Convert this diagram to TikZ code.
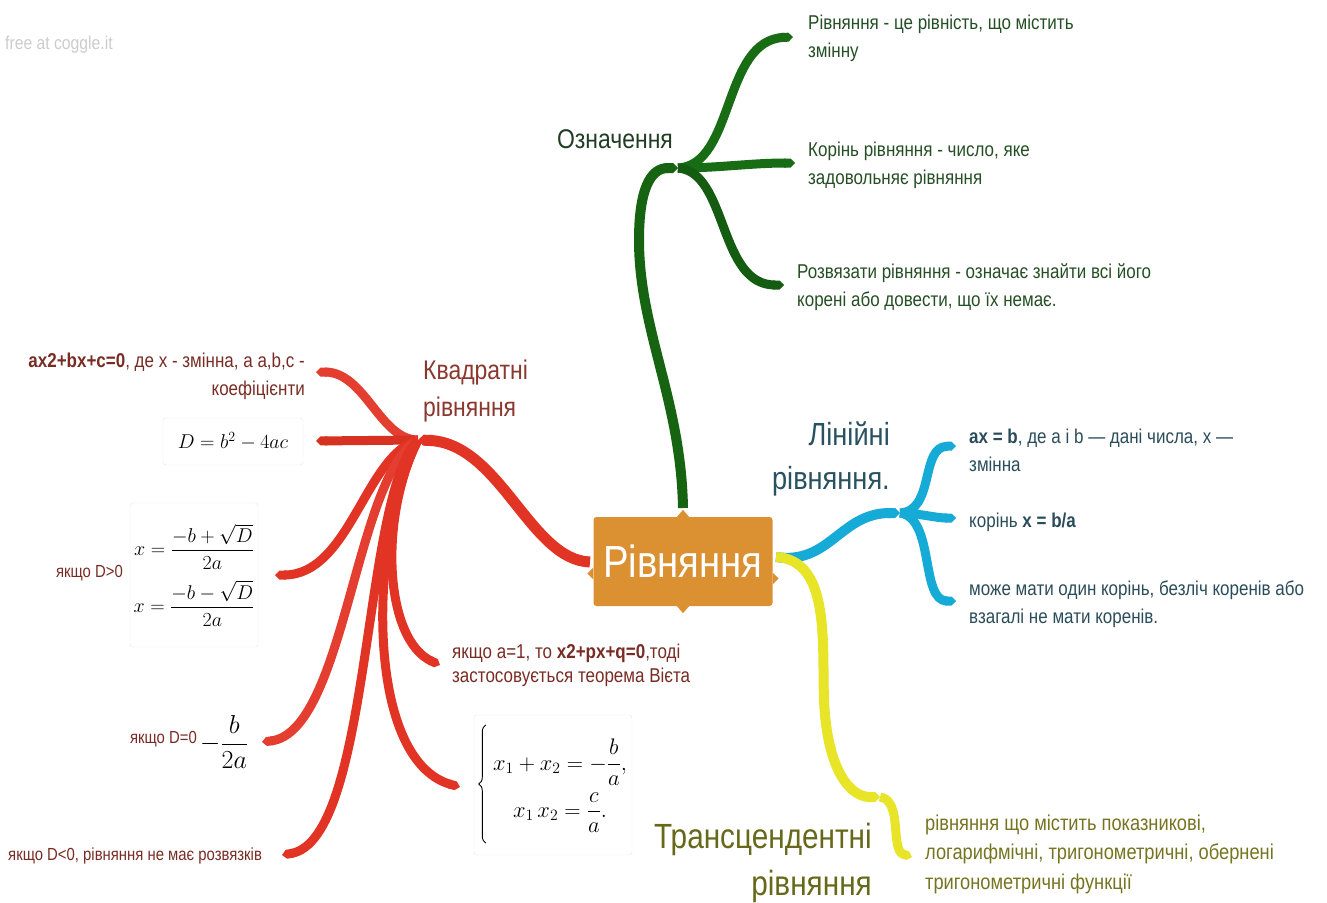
\RequirePackage{fix-cm}
\documentclass[tikz,border=0pt]{standalone}
\usepackage{amsmath}
\usepackage{fontspec}
\setmainfont[FakeStretch=0.85]{Liberation Sans}
\usetikzlibrary{arrows.meta,decorations.pathreplacing}

% branch colours
\definecolor{brgreen}{RGB}{24,108,20}
\definecolor{brred}{RGB}{226,52,36}
\definecolor{brblue}{RGB}{22,170,214}
\definecolor{bryellow}{RGB}{232,228,40}
\definecolor{rootfill}{RGB}{219,145,50}
% text colours
\definecolor{txgreen}{RGB}{36,78,36}
\definecolor{hdgreen}{RGB}{34,60,36}
\definecolor{txred}{RGB}{120,44,36}
\definecolor{hdred}{RGB}{138,56,46}
\definecolor{txblue}{RGB}{42,76,90}
\definecolor{hdblue}{RGB}{40,82,96}
\definecolor{txolive}{RGB}{118,116,32}
\definecolor{hdolive}{RGB}{104,104,26}

\begin{document}
\begin{tikzpicture}[x=1pt,y=-1pt,
  branch/.style={line width=#1, line cap=butt, -{Triangle Cap[]}},
  branch/.default=10,
  leaf/.style={inner sep=0pt, align=left, anchor=west, font=\fontsize{20}{28}\selectfont},
  small/.style={font=\fontsize{17.5}{24}\selectfont},
  heading/.style 2 args={inner sep=0pt, font=\fontsize{#1}{#2}\selectfont},
  formulabox/.style={draw=black!9, fill=white, rounded corners=3pt, inner sep=0pt,
    align=center, font=\fontsize{20}{24}\selectfont}]
\useasboundingbox (0,0) rectangle (1327,902);

% watermark
\node[inner sep=0pt, anchor=west, text=black!20, font=\fontsize{18.5}{24}\selectfont] (mark) at (5,45) {free at coggle.it};

% ---- hubs and branch ends ----
\coordinate (rootN) at (683,508);
\coordinate (rootW) at (590,562);
\coordinate (rootE) at (776,557);

\coordinate (gHub) at (678,168);
\coordinate (gEnd1) at (793,37);
\coordinate (gEnd2) at (795,163);
\coordinate (gEnd3) at (784,285);

\coordinate (rHub) at (418,440);
\coordinate (rEnd1) at (316,372);
\coordinate (rEnd2) at (316,441);
\coordinate (rEnd3) at (275,575);
\coordinate (rEnd4) at (262,742);
\coordinate (rEnd5) at (282,855);
\coordinate (rEnd6) at (440,665);
\coordinate (rEnd7) at (460,787);

\coordinate (bHub) at (900,513);
\coordinate (bEnd1) at (956,446);
\coordinate (bEnd2) at (956,518);
\coordinate (bEnd3) at (956,601);

\coordinate (yHub) at (880,797);
\coordinate (yEnd1) at (912,857);

% ---- green branch ----
\draw[branch=10, brgreen!92!black] (rootN) .. controls (681,400) and (639,330) .. (639,240)
  .. controls (639,190) and (650,168) .. (gHub);
\draw[branch=9, brgreen] (gHub) .. controls (735,165) and (722,40) .. (gEnd1);
\draw[branch=9, brgreen] (gHub) .. controls (720,168) and (750,163) .. (gEnd2);
\draw[branch=9, brgreen!85!black] (gHub) .. controls (728,172) and (718,285) .. (gEnd3);

% ---- red branch ----
\draw[branch=11, brred] (rootW) .. controls (530,560) and (500,443) .. (rHub);
\draw[branch=9, brred!95!white] (rHub) .. controls (380,440) and (365,372) .. (rEnd1);
\draw[branch=9, brred!95!black] (rHub) -- (rEnd2);
\draw[branch=9, brred] (rHub) .. controls (365,455) and (350,575) .. (rEnd3);
\draw[branch=9, brred!95!white] (rHub) .. controls (355,475) and (345,732) .. (rEnd4);
\draw[branch=9, brred] (rHub) .. controls (362,495) and (372,840) .. (rEnd5);
\draw[branch=9, brred] (rHub) .. controls (378,520) and (385,640) .. (rEnd6);
\draw[branch=9, brred] (rHub) .. controls (370,530) and (362,760) .. (rEnd7);

% ---- blue branch ----
\draw[branch=10, brblue] (rootE) .. controls (830,565) and (840,513) .. (bHub);
\draw[branch=9, brblue] (bHub) .. controls (935,511) and (920,447) .. (bEnd1);
\draw[branch=9, brblue] (bHub) .. controls (925,514) and (935,518) .. (bEnd2);
\draw[branch=9, brblue] (bHub) .. controls (935,518) and (920,601) .. (bEnd3);

% ---- yellow branch ----
\draw[branch=10, bryellow] (rootE) .. controls (830,560) and (822,640) .. (824,700)
  .. controls (827,770) and (850,797) .. (yHub);
\draw[branch=9, bryellow] (yHub) .. controls (903,800) and (890,850) .. (yEnd1);

% ---- central node ----
\node[fill=rootfill, rounded corners=3pt, minimum width=179pt, minimum height=89pt,
  inner sep=0pt, text=white, font=\fontsize{45}{50}\selectfont] (root) at (683,561.5) {Рівняння};
\fill[rootfill] ([xshift=-6pt]root.north) -- ++(6,-7) -- ++(6,7) -- cycle;
\fill[rootfill] ([xshift=-6pt]root.south) -- ++(6,7) -- ++(6,-7) -- cycle;
\fill[rootfill] ([yshift=-6pt]root.west) -- ++(-6,6) -- ++(6,6) -- cycle;
\fill[rootfill] ([yshift=-11pt]root.east) -- ++(6,6) -- ++(-6,6) -- cycle;

% ---- headings ----
\node[heading={27}{37}, text=hdgreen] (hDef) at (615,139) {Означення};
\node[heading={27}{37}, text=hdred, align=left, anchor=west] (hQuad) at (423,391)
  {Квадратні\\рівняння};
\node[heading={32}{44}, text=hdblue, align=right, anchor=east] (hLin) at (890,459)
  {Лінійні\\рівняння.};
\node[heading={35}{47}, text=hdolive, align=right, anchor=east] (hTr) at (872,863)
  {Трансцендентні\\рівняння};

% ---- green leaves ----
\node[leaf, text=txgreen] (g1) at (808,38) {Рівняння - це рівність, що містить\\змінну};
\node[leaf, text=txgreen] (g2) at (808,165) {Корінь рівняння - число, яке\\задовольняє рівняння};
\node[leaf, text=txgreen] (g3) at (797,287) {Розвязати рівняння - означає знайти всі його\\корені або довести, що їх немає.};

% ---- red leaves ----
\node[leaf, text=txred, align=right, anchor=east] (r1) at (305,376)
  {\textbf{ax2+bx+c=0}, де х - змінна, а a,b,c -\\коефіцієнти};
\node[formulabox, minimum width=140pt, minimum height=47pt] (r2) at (233,441.5)
  {$D = b^2 - 4ac$};
\node[formulabox, minimum width=128pt, minimum height=144pt, font=\fontsize{20}{24}\selectfont] (r3) at (194,575)
  {$\displaystyle x=\frac{-b+\sqrt{D}}{2a}$\\[10pt]$\displaystyle x=\frac{-b-\sqrt{D}}{2a}$};
\node[leaf, small, text=txred, anchor=east] (r3t) at (123,573) {якщо D>0};
\node[leaf, small, text=txred, anchor=east] (r4t) at (197,739) {якщо D=0};
\node[inner sep=0pt, anchor=west, font=\fontsize{26}{30}\selectfont] (r4) at (200,742)
  {$\displaystyle -\frac{b}{2a}$};
\node[leaf, small, text=txred] (r5) at (8,856) {якщо D<0, рівняння не має розвязків};
\node[leaf, text=txred, font=\fontsize{20}{24}\selectfont] (r6) at (452,665)
  {якщо а=1, то \textbf{x2+px+q=0},тоді\\застосовується теорема Вієта};
% Vieta system: box, drawn brace, and the two equations
\node[formulabox, minimum width=158pt, minimum height=140pt] (r7) at (553,785) {};
\draw[decorate, decoration={brace, amplitude=7pt}, line width=0.9pt]
  ([xshift=12pt, yshift=-58pt]r7.west) -- ([xshift=12pt, yshift=60pt]r7.west);
\node[inner sep=0pt, font=\fontsize{22.5}{27}\selectfont] (r7m) at (560,786)
  {$\begin{array}{@{}c@{}}
     x_1+x_2=-\dfrac{b}{a},\\[14pt]
     x_1\,x_2=\dfrac{c}{a}.
   \end{array}$};

% ---- blue leaves ----
\node[leaf, text=txblue] (b1) at (969,450) {\textbf{ax = b}, де a і b — дані числа, х —\\змінна};
\node[leaf, text=txblue] (b2) at (969,522) {корінь \textbf{x = b/a}};
\node[leaf, text=txblue] (b3) at (969,604) {може мати один корінь, безліч коренів або\\взагалі не мати коренів.};

% ---- yellow leaf ----
\node[leaf, text=txolive, font=\fontsize{21.5}{29.5}\selectfont] (y1) at (925,854)
  {рівняння що містить показникові,\\логарифмічні, тригонометричні, обернені\\тригонометричні функції};
\end{tikzpicture}
\end{document}
